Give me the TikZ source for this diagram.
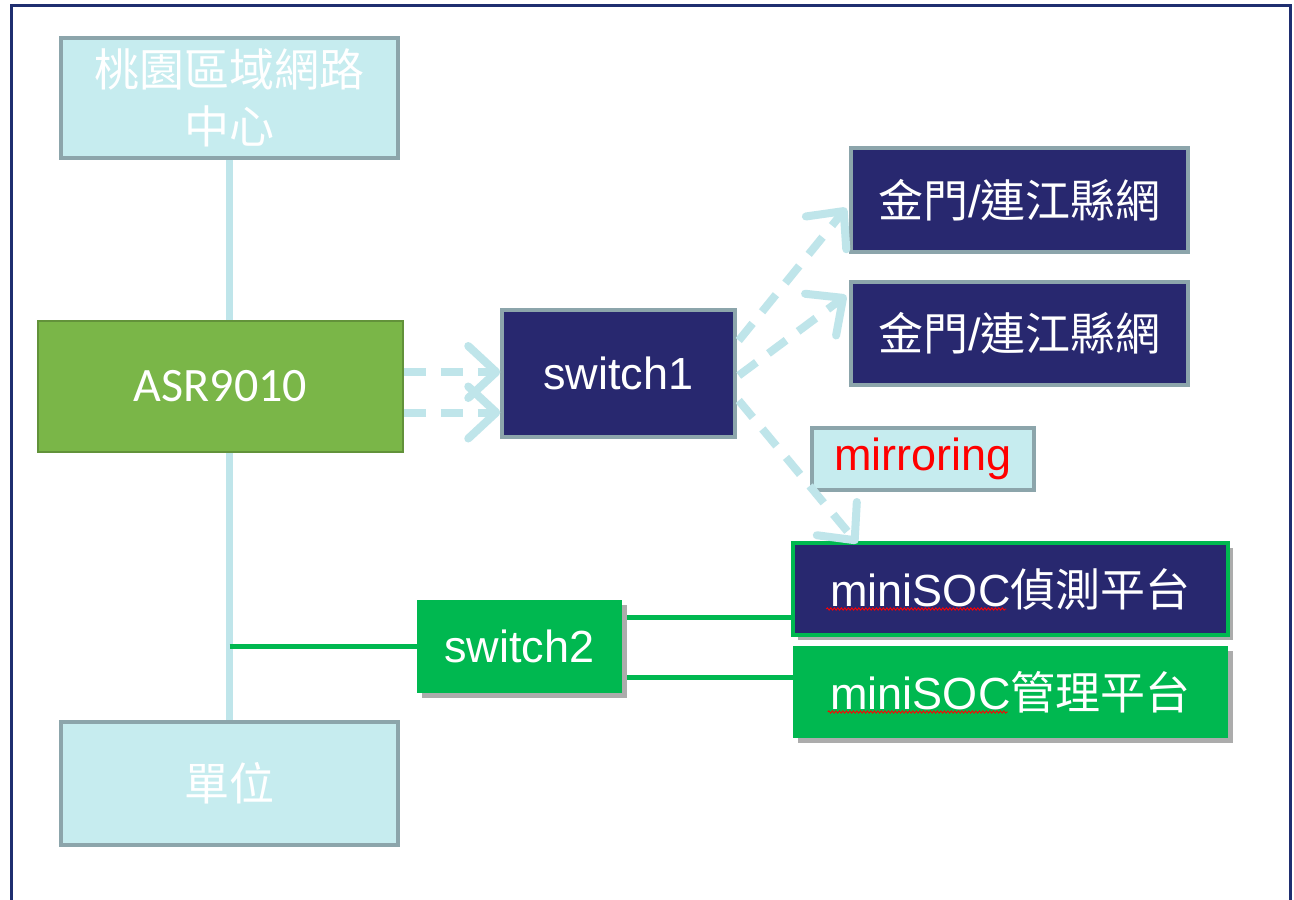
\documentclass[tikz,border=0pt]{standalone}
\usepackage{fontspec}
\setmainfont{Liberation Sans}
\newfontfamily\cjk{Noto Sans CJK TC}
\newfontfamily\calib{Carlito}
\usetikzlibrary{arrows.meta,calc,shadows,backgrounds,decorations.pathmorphing}
\definecolor{lcyan}{HTML}{C6ECEF}
\definecolor{gborder}{HTML}{8CA5AB}
\definecolor{navy}{HTML}{28286F}
\definecolor{asrgreen}{HTML}{7AB648}
\definecolor{bgreen}{HTML}{00B850}
\definecolor{dcyan}{HTML}{BFE5EA}
\definecolor{frame}{HTML}{1F2E70}
\tikzset{
  box/.style={rectangle, inner sep=0pt, text=white, align=center,
    font=\fontsize{45}{58}\selectfont},
  lightbox/.style={box, fill=lcyan, draw=gborder, line width=3.5pt},
  navybox/.style={box, fill=navy, draw=gborder, line width=3.5pt},
  greenbox/.style={box, fill=bgreen, drop shadow={shadow xshift=5pt,shadow yshift=-5pt,opacity=1,fill=gray!65}},
  cyanline/.style={draw=dcyan, line width=7pt},
  greenline/.style={draw=bgreen, line width=5pt},
  dasharrow/.style={draw=dcyan, line width=8pt, dash pattern=on 22pt off 15pt,
    -{Straight Barb[length=28pt,width=52pt,line width=8pt,round]}},
  wavy/.style={draw=red, line width=0.9pt, decorate,
    decoration={snake, amplitude=1.1pt, segment length=3.5pt}}
}
\begin{document}
\begin{tikzpicture}[x=1pt,y=-1pt]
\useasboundingbox (0,0) rectangle (1294,900);
\node[lightbox, minimum width=337pt, minimum height=120pt] (top) at (229.5,98) {{\cjk 桃園區域網路}\\[-1pt]{\cjk 中心}};
\node[box, fill=asrgreen, draw=asrgreen!80!black, line width=1.5pt, minimum width=365pt, minimum height=131pt, font=\calib\fontsize{48}{58}\selectfont] (asr) at (220.5,386.5) {ASR9010};
\node[navybox, minimum width=233pt, minimum height=127pt] (sw1) at (618.5,373.5) {switch1};
\node[navybox, minimum width=337pt, minimum height=104pt] (b1) at (1019.5,200) {{\cjk 金門}/{\cjk 連江縣網}};
\node[navybox, minimum width=337pt, minimum height=103pt] (b2) at (1019.5,333.5) {{\cjk 金門}/{\cjk 連江縣網}};
\node[lightbox, text=red, minimum width=222pt, minimum height=62pt] (mir) at (923,459) {mirroring};
\node[box, fill=navy, draw=bgreen, line width=3.5pt, drop shadow={shadow xshift=5pt,shadow yshift=-5pt,opacity=1,fill=gray!65}, minimum width=435pt, minimum height=92pt] (det) at (1010.5,589) {miniSOC{\cjk 偵測平台}};
\node[greenbox, minimum width=435pt, minimum height=92pt] (mgmt) at (1010.5,692) {miniSOC{\cjk 管理平台}};
\node[greenbox, minimum width=205pt, minimum height=93pt] (sw2) at (519.5,646.5) {switch2};
\node[lightbox, minimum width=337pt, minimum height=123pt] (unit) at (229.5,783.5) {{\cjk 單位}};
% spell-check underlines
\draw[wavy] ($(det.west)+(35,20)$) coordinate (w1) -- ($(w1)+(180,0)$);
\draw[wavy] ($(mgmt.west)+(35,20)$) coordinate (w2) -- ($(w2)+(180,0)$);
\begin{scope}[on background layer]
  \fill[white] (0,0) rectangle (1294,900);
  \draw[frame, line width=3pt] (11,5) rectangle (1290,906);
  \draw[cyanline] (top.south) -- (unit.north);
  \draw[greenline] (top.south |- sw2.west) -- (sw2.west);
  \draw[greenline] ($(sw2.east)+(0,-29.5)$) coordinate (g1) -- (g1 -| det.west);
  \draw[greenline] ($(sw2.east)+(0,30.5)$) coordinate (g2) -- (g2 -| mgmt.west);
\end{scope}
\draw[dasharrow] ($(asr.east)+(0,-14.5)$) coordinate (a1) -- (a1 -| sw1.west);
\draw[dasharrow] ($(asr.east)+(0,26)$) coordinate (a2) -- (a2 -| sw1.west);
\draw[dasharrow] ($(sw1.east)+(2,-33)$) -- ($(b1.west)+(-3,8)$);
\draw[dasharrow] ($(sw1.east)+(2,2)$) -- ($(b2.west)+(-3,-38)$);
\draw[dasharrow] ($(sw1.east)+(2,27)$) -- ($(det.north west)+(66,2)$);
\end{tikzpicture}
\end{document}
